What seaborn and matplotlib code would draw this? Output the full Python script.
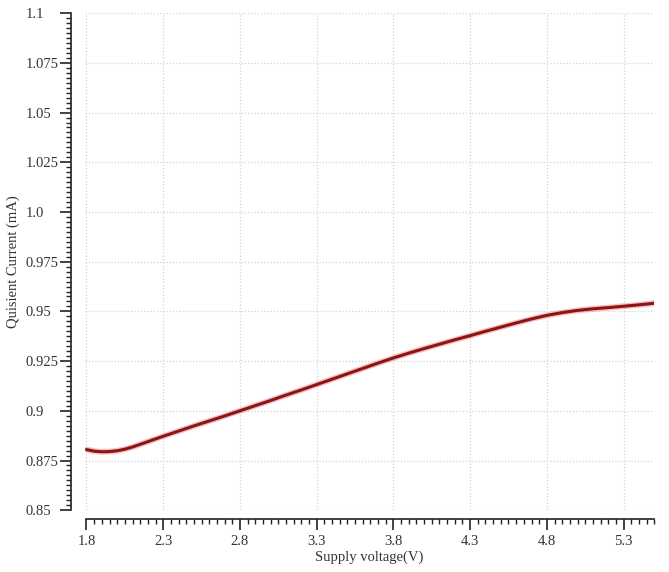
import numpy as np
import pandas as pd
import matplotlib
matplotlib.use("Agg")
from matplotlib import pyplot as plt
from matplotlib.ticker import MultipleLocator
import seaborn as sns

# Supply voltage (V) vs quiescent current (mA)
voltage = [1.8, 1.85, 1.9, 1.95, 2.0, 2.05, 2.1, 2.2, 2.3, 2.4, 2.5, 2.6, 2.7, 2.8, 2.9,
           3.0, 3.1, 3.2, 3.3, 3.4, 3.5, 3.6, 3.7, 3.8, 3.9, 4.0, 4.1, 4.2, 4.3,
           4.4, 4.5, 4.6, 4.7, 4.8, 4.9, 5.0, 5.1, 5.2, 5.3, 5.4, 5.5]
current = [0.8805, 0.8797, 0.8794, 0.8795, 0.8799, 0.8807, 0.8818, 0.8845, 0.8872, 0.8898,
           0.8924, 0.8949, 0.8974, 0.9000, 0.9026, 0.9052, 0.9079, 0.9105, 0.9132,
           0.9159, 0.9186, 0.9213, 0.9240, 0.9266, 0.9290, 0.9313, 0.9335, 0.9357,
           0.9378, 0.9400, 0.9421, 0.9442, 0.9462, 0.9480, 0.9494, 0.9505, 0.9513,
           0.9519, 0.9526, 0.9533, 0.9541]
y_ticks = [0.85, 0.875, 0.9, 0.925, 0.95, 0.975, 1.0, 1.025, 1.05, 1.075, 1.1]
y_labels = ["0.85", "0.875", "0.9", "0.925", "0.95", "0.975", "1.0", "1.025", "1.05", "1.075", "1.1"]
x_ticks = [1.8, 2.3, 2.8, 3.3, 3.8, 4.3, 4.8, 5.3]

df = pd.DataFrame({"Supply voltage(V)": voltage, "Quisient Current (mA)": current})

sns.set_theme(style="ticks")
plt.rcParams["font.family"] = ["Liberation Serif", "DejaVu Serif"]

fig = plt.figure(figsize=(6.69, 5.72), dpi=100)
ax = fig.add_axes([0.127, 0.108, 0.851, 0.869])

# soft red halo under the dark main curve
sns.lineplot(data=df, x="Supply voltage(V)", y="Quisient Current (mA)", ax=ax,
             color="#e84848", linewidth=4.2, alpha=0.35)
sns.lineplot(data=df, x="Supply voltage(V)", y="Quisient Current (mA)", ax=ax,
             color="#8c1414", linewidth=2.2)

ax.set_xlim(1.79, 5.5)
ax.set_ylim(0.85, 1.1)
ax.xaxis.set_minor_locator(MultipleLocator(0.05))
ax.yaxis.set_minor_locator(MultipleLocator(0.0025))

ax.grid(True, which="major", linestyle=(0, (1, 1.6)), color="#d4d4d4", linewidth=0.9)
for s in ["left", "bottom"]:
    ax.spines[s].set_linewidth(1.2)
    ax.spines[s].set_color("#222222")
sns.despine(ax=ax, offset={"left": 10, "bottom": 6})
ax.spines["bottom"].set_bounds(1.8, 5.5)

# ticks set after despine so the label alignment sticks
ax.set_xticks(x_ticks)
ax.set_xticklabels([f"{v:.1f}" for v in x_ticks])
ax.set_yticks(y_ticks)
ax.set_yticklabels(y_labels, ha="left")
ax.tick_params(which="major", direction="out", length=8, width=1.2,
               colors="#222222", labelsize=10.5, labelcolor="#333333")
ax.tick_params(axis="y", which="major", pad=24.5)
ax.tick_params(which="minor", direction="out", length=3.5, width=1.0, colors="#222222")

ax.set_xlabel("Supply voltage(V)", fontsize=10.5, color="#333333", labelpad=2)
ax.set_ylabel("Quisient Current (mA)", fontsize=10.5, color="#333333", labelpad=4)

fig.savefig("out.png", dpi=100)
